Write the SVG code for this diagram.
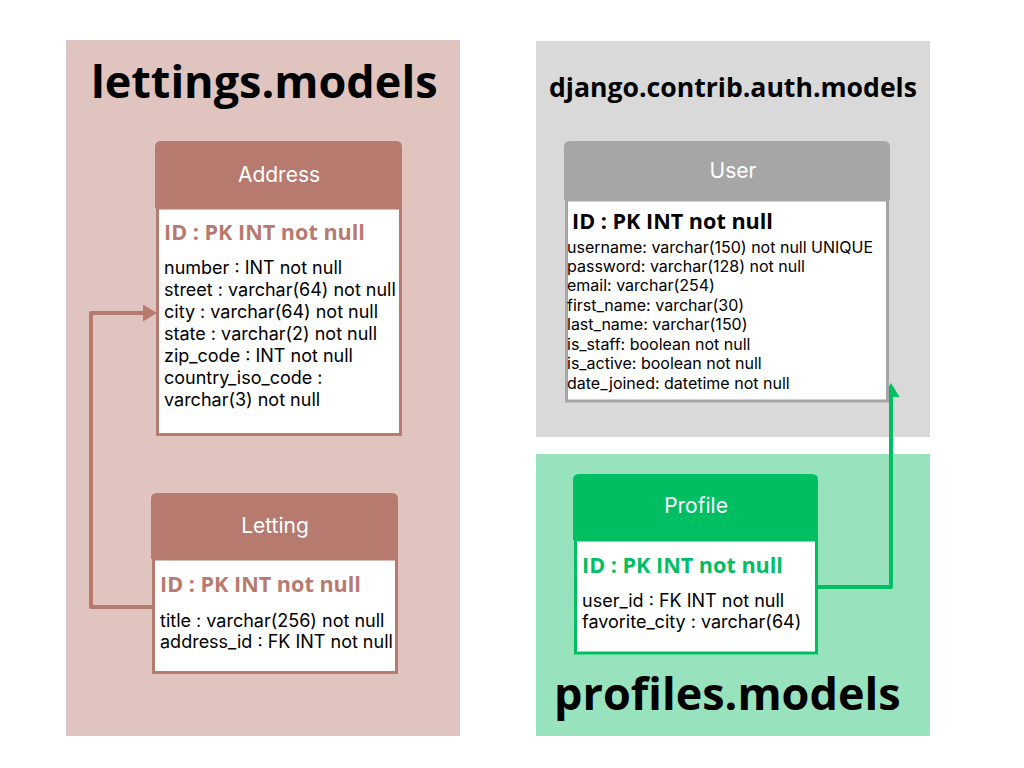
<svg xmlns="http://www.w3.org/2000/svg" width="1024" height="768" viewBox="0 0 1024 768">
<defs>
<marker id="arrBrown" viewBox="0 0 14 17" refX="2" refY="8.5" markerWidth="14" markerHeight="17" markerUnits="userSpaceOnUse" orient="auto"><path d="M0,0 L14,8.5 L0,17 z" fill="#b77a6f"/></marker>
<marker id="arrGreen" viewBox="0 0 14 17" refX="2" refY="8.5" markerWidth="14" markerHeight="17" markerUnits="userSpaceOnUse" orient="auto"><path d="M0,0 L14,8.5 L0,17 z" fill="#00bf63"/></marker>
</defs>
<style>
.pkg{font-family:"Open Sans",sans-serif;font-weight:700;fill:#000}
.ttl{font-family:Inter,"Liberation Sans",sans-serif;font-size:21px;fill:#fff;text-anchor:middle}
.pk{font-family:"Open Sans",sans-serif;font-weight:700;font-size:21.6px}
.fld{font-family:Inter,"Liberation Sans",sans-serif;font-size:18px;fill:#000}
.ufld{font-family:Inter,"Liberation Sans",sans-serif;font-size:16px;fill:#000}
</style>
<rect width="1024" height="768" fill="#fff"/>
<g id="pkg-lettings">
<rect x="66" y="40" width="394" height="696" fill="#e0c4c0"/>
<text class="pkg" x="91" y="98" font-size="45">lettings.models</text>
</g>
<g id="pkg-auth">
<rect x="536" y="41" width="394" height="396" fill="#d9d9d9"/>
<text class="pkg" x="549" y="97" font-size="26.6">django.contrib.auth.models</text>
</g>
<g id="pkg-profiles">
<rect x="536" y="454" width="394" height="282" fill="#98e3bd"/>
<text class="pkg" x="554" y="710" font-size="45">profiles.models</text>
</g>
<g id="connectors" fill="none" stroke-width="4" stroke-linejoin="round">
<path d="M153,607 H91 V313 H145" stroke="#b77a6f" marker-end="url(#arrBrown)"/>
<path d="M818,587 H891 V395" stroke="#00bf63" marker-end="url(#arrGreen)"/>
</g>
<g id="node-address">
<path d="M155,208 V147 Q155,141 161,141 H396 Q402,141 402,147 V208 Z" fill="#b77a6f"/>
<rect x="157.5" y="208" width="243" height="226.5" fill="#fff" stroke="#b77a6f" stroke-width="3"/>
<text class="ttl" x="279" y="182">Address</text>
<text class="pk" x="164" y="240" fill="#b77a6f">ID : PK INT not null</text>
<text class="fld" x="164" y="274">number : INT not null</text>
<text class="fld" x="164" y="296">street : varchar(64) not null</text>
<text class="fld" x="164" y="318">city : varchar(64) not null</text>
<text class="fld" x="164" y="340">state : varchar(2) not null</text>
<text class="fld" x="164" y="362">zip_code :  INT not null</text>
<text class="fld" x="164" y="384">country_iso_code :</text>
<text class="fld" x="164" y="406">varchar(3) not null</text>
</g>
<g id="node-letting">
<path d="M151,559 V499 Q151,493 157,493 H392 Q398,493 398,499 V559 Z" fill="#b77a6f"/>
<rect x="153.5" y="559" width="243" height="113.5" fill="#fff" stroke="#b77a6f" stroke-width="3"/>
<text class="ttl" x="275" y="533">Letting</text>
<text class="pk" x="160" y="592" fill="#b77a6f">ID : PK INT not null</text>
<text class="fld" x="160" y="627">title : varchar(256) not null</text>
<text class="fld" x="160" y="648">address_id : FK INT not null</text>
</g>
<g id="node-user">
<path d="M564,200 V147 Q564,141 570,141 H884 Q890,141 890,147 V200 Z" fill="#a6a6a6"/>
<rect x="566.5" y="200" width="321" height="201" fill="#fff" stroke="#a6a6a6" stroke-width="3"/>
<text class="ttl" x="733" y="178" font-size="18">User</text>
<text class="pk" x="572" y="229" fill="#000" font-size="19.1">ID : PK INT not null</text>
<text class="ufld" x="567" y="253">username: varchar(150) not null UNIQUE</text>
<text class="ufld" x="567" y="272">password: varchar(128) not null</text>
<text class="ufld" x="567" y="291">email: varchar(254)</text>
<text class="ufld" x="567" y="311">first_name: varchar(30)</text>
<text class="ufld" x="567" y="330">last_name: varchar(150)</text>
<text class="ufld" x="567" y="350">is_staff: boolean not null</text>
<text class="ufld" x="567" y="369">is_active: boolean not null</text>
<text class="ufld" x="567" y="389">date_joined: datetime not null</text>
</g>
<g id="node-profile">
<path d="M573,540 V480 Q573,474 579,474 H812 Q818,474 818,480 V540 Z" fill="#00bf63"/>
<rect x="575.5" y="540" width="241" height="113" fill="#fff" stroke="#00bf63" stroke-width="3"/>
<text class="ttl" x="696" y="513">Profile</text>
<text class="pk" x="582" y="573" fill="#00bf63">ID : PK INT not null</text>
<text class="fld" x="582" y="607">user_id : FK INT not null</text>
<text class="fld" x="582" y="628">favorite_city : varchar(64)</text>
</g>
</svg>
